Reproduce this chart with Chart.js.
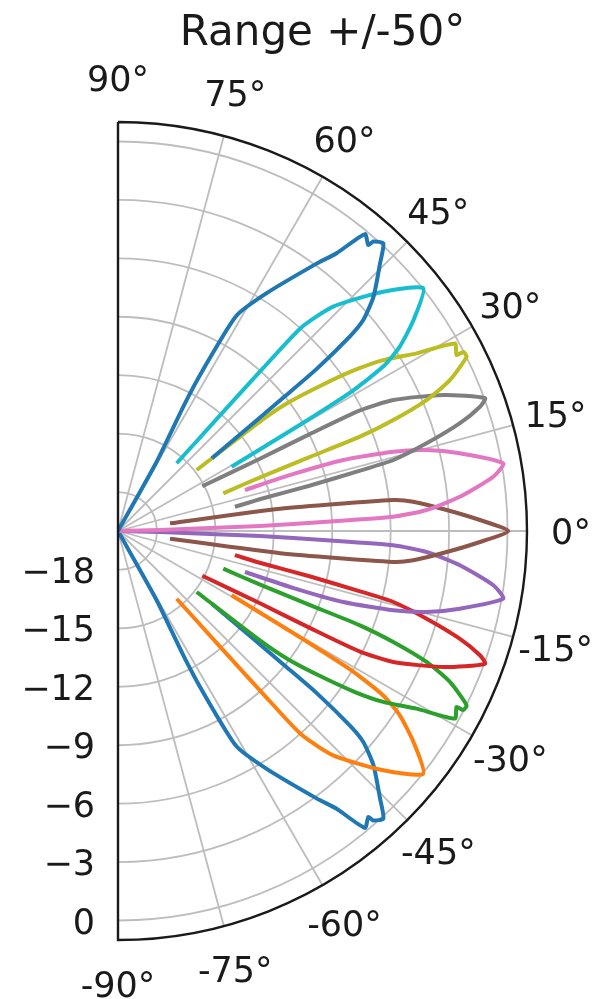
<!DOCTYPE html>
<html>
<head>
<meta charset="utf-8">
<script src="https://cdn.jsdelivr.net/npm/chart.js@4"></script>
<style>
  body { margin: 0; background: #fff; }
  canvas { display: block; }
</style>
</head>
<body>
<canvas id="polar" width="596" height="999"></canvas>
<script>
// radial axis (dB) and angular axis (deg)
const rMin = -20, rMax = 1;
const rTicks = [-18, -15, -12, -9, -6, -3, 0];
const rTickLabels = ["\u221218", "\u221215", "\u221212", "\u22129", "\u22126", "\u22123", "0"];
const thetaTicks = [-90, -75, -60, -45, -30, -15, 0, 15, 30, 45, 60, 75, 90];
const thetaTickLabels = ["-90°", "-75°", "-60°", "-45°", "-30°", "-15°", "0°", "15°", "30°", "45°", "60°", "75°", "90°"];
const titleText = "Range +/-50°";

// beam lobes, theta in degrees, r in dB
const beamM48Theta = [-60, -60.8, -62.3, -62.2, -61.2, -58.0, -53.4, -51.8, -50.25, -48.8, -48.6, -47.3, -45.6, -42.5, -40.7, -40.0, -39.2, -38.9, -38.6, -37.8];
const beamM48R     = [-20, -16.0, -12.7, -10.7, -7.4, -5.6, -2.9, -1.85, -0.17, -0.49, -0.19, 0.09, -0.77, -2.21, -3.39, -4.47, -6.87, -9.07, -10.88, -13.9];
const beamM38Theta = [-29.5, -30.2, -30.8, -31.8, -33.2, -35.5, -38.5, -42.05, -46.2, -48.0, -48.3, -48.6, -49.1];
const beamM38R     = [-13.3, -9.57, -6.15, -3.98, -2.71, -1.37, 0.02, -1.66, -4.04, -5.95, -8.84, -12.38, -15.4];
const beamM29Theta = [-37.8, -37.6, -37.0, -35.6, -34.2, -32.8, -30.75, -29.1, -27.46, -27.4, -26.56, -24.45, -23.0, -21.96, -21.3, -21.1, -20.7, -19.7];
const beamM29R     = [-14.89, -10.67, -9.02, -7.14, -5.29, -3.8, -2.16, -0.2, -0.41, -0.03, 0.01, -1.28, -2.79, -4.76, -6.67, -9.43, -12.2, -14.26];
const beamM19Theta = [-28.0, -27.0, -26.8, -26.5, -25.45, -22.7, -19.9, -18.95, -17.5, -15.86, -14.46, -14.0, -13.3, -12.7, -11.7];
const beamM19R     = [-15.1, -11.85, -9.0, -6.15, -4.35, -1.9, 0.04, -0.35, -1.59, -3.53, -5.4, -7.19, -9.9, -12.4, -13.87];
const beamM10Theta = [-17.9, -18.0, -17.5, -16.07, -14.7, -12.8, -9.97, -8.23, -5.73, -3.89, -2.97, -2.55, -2.0, -1.4, -1.0];
const beamM10R     = [-13.15, -10.52, -7.87, -5.29, -3.62, -2.0, 0.08, -0.53, -2.36, -4.12, -5.85, -9.28, -12.7, -17.84, -20];
const beam0Theta   = [8.4, 7.8, 6.42, 5.67, 3.66, 1.74, 0, -1.74, -3.66, -5.67, -6.42, -7.8, -8.4];
const beam0R       = [-17.3, -11.6, -5.78, -4.77, -3.09, -1.41, 0.04, -1.41, -3.09, -4.77, -5.78, -11.6, -17.3];
const beamP10Theta = [17.9, 18.0, 17.5, 16.07, 14.7, 12.8, 9.97, 8.23, 5.73, 3.89, 2.97, 2.55, 2.0, 1.4, 1.0];
const beamP10R     = [-13.15, -10.52, -7.87, -5.29, -3.62, -2.0, 0.08, -0.53, -2.36, -4.12, -5.85, -9.28, -12.7, -17.84, -20];
const beamP19Theta = [28.0, 27.0, 26.8, 26.5, 25.45, 22.7, 19.9, 18.95, 17.5, 15.86, 14.46, 14.0, 13.3, 12.7, 11.7];
const beamP19R     = [-15.1, -11.85, -9.0, -6.15, -4.35, -1.9, 0.04, -0.35, -1.59, -3.53, -5.4, -7.19, -9.9, -12.4, -13.87];
const beamP29Theta = [37.8, 37.6, 37.0, 35.6, 34.2, 32.8, 30.75, 29.1, 27.46, 27.4, 26.56, 24.45, 23.0, 21.96, 21.3, 21.1, 20.7, 19.7];
const beamP29R     = [-14.89, -10.67, -9.02, -7.14, -5.29, -3.8, -2.16, -0.2, -0.41, -0.03, 0.01, -1.28, -2.79, -4.76, -6.67, -9.43, -12.2, -14.26];
const beamP38Theta = [29.5, 30.2, 30.8, 31.8, 33.2, 35.5, 38.5, 42.05, 46.2, 48.0, 48.3, 48.6, 49.1];
const beamP38R     = [-13.3, -9.57, -6.15, -3.98, -2.71, -1.37, 0.02, -1.66, -4.04, -5.95, -8.84, -12.38, -15.4];
const beamP48Theta = [60, 60.8, 62.3, 62.2, 61.2, 58.0, 53.4, 51.8, 50.25, 48.8, 48.6, 47.3, 45.6, 42.5, 40.7, 40.0, 39.2, 38.9, 38.6, 37.8];
const beamP48R     = [-20, -16.0, -12.7, -10.7, -7.4, -5.6, -2.9, -1.85, -0.17, -0.49, -0.19, 0.09, -0.77, -2.21, -3.39, -4.47, -6.87, -9.07, -10.88, -13.9];

const beams = [
  [beamM48Theta, beamM48R, "#1f77b4"],
  [beamM38Theta, beamM38R, "#ff7f0e"],
  [beamM29Theta, beamM29R, "#2ca02c"],
  [beamM19Theta, beamM19R, "#d62728"],
  [beamM10Theta, beamM10R, "#9467bd"],
  [beam0Theta,   beam0R,   "#8c564b"],
  [beamP10Theta, beamP10R, "#e377c2"],
  [beamP19Theta, beamP19R, "#7f7f7f"],
  [beamP29Theta, beamP29R, "#bcbd22"],
  [beamP38Theta, beamP38R, "#17becf"],
  [beamP48Theta, beamP48R, "#1f77b4"]
];

// polar -> the x/y value space of the linear scales
function polarPoints(th, r) {
  return th.map(function (t, i) {
    var a = t * Math.PI / 180, rr = r[i] - rMin;
    return { x: rr * Math.cos(a), y: rr * Math.sin(a) };
  });
}

var datasets = beams.map(function (b, i) {
  return {
    data: polarPoints(b[0], b[1]),
    borderColor: b[2],
    borderWidth: 4,
    showLine: true,
    pointRadius: 0,
    tension: 0.2,
    order: beams.length - i
  };
});

var FONT = "'DejaVu Sans', sans-serif";

var polarFrame = {
  id: "polarFrame",
  beforeDatasetsDraw: function (chart) {
    var ctx = chart.ctx, xs = chart.scales.x, ys = chart.scales.y;
    var cx = xs.getPixelForValue(0), cy = ys.getPixelForValue(0);
    var k = xs.getPixelForValue(1) - cx;
    var R = (rMax - rMin) * k;
    ctx.save();
    ctx.strokeStyle = "#bdbdbd";
    ctx.lineWidth = 1.8;
    rTicks.forEach(function (r) {
      ctx.beginPath();
      ctx.arc(cx, cy, (r - rMin) * k, -Math.PI / 2, Math.PI / 2);
      ctx.stroke();
    });
    thetaTicks.forEach(function (t) {
      if (Math.abs(t) === 90) return;
      var a = t * Math.PI / 180;
      ctx.beginPath();
      ctx.moveTo(cx, cy);
      ctx.lineTo(cx + R * Math.cos(a), cy - R * Math.sin(a));
      ctx.stroke();
    });
    ctx.restore();
  },
  afterDatasetsDraw: function (chart) {
    var ctx = chart.ctx, xs = chart.scales.x, ys = chart.scales.y;
    var cx = xs.getPixelForValue(0), cy = ys.getPixelForValue(0);
    var k = xs.getPixelForValue(1) - cx;
    var R = (rMax - rMin) * k;
    ctx.save();
    // spines
    ctx.strokeStyle = "#1a1a1a";
    ctx.lineWidth = 2.4;
    ctx.beginPath();
    ctx.moveTo(cx, cy - R);
    ctx.arc(cx, cy, R, -Math.PI / 2, Math.PI / 2);
    ctx.lineTo(cx, cy - R);
    ctx.stroke();

    ctx.fillStyle = "#1a1a1a";
    ctx.font = "35px " + FONT;
    ctx.textBaseline = "alphabetic";
    // angle labels
    ctx.textAlign = "center";
    thetaTicks.forEach(function (t, i) {
      var a = t * Math.PI / 180, d = R + 44;
      ctx.fillText(thetaTickLabels[i], cx + d * Math.cos(a), cy - d * Math.sin(a) + 13);
    });
    // radial labels
    ctx.textAlign = "right";
    rTicks.forEach(function (r, i) {
      ctx.fillText(rTickLabels[i], cx - 23, cy + (r - rMin) * k + 13);
    });
    // title
    ctx.textAlign = "center";
    ctx.font = "42px " + FONT;
    ctx.fillText(titleText, (chart.chartArea.left + chart.chartArea.right) / 2, 45);
    ctx.restore();
  }
};

new Chart(document.getElementById("polar").getContext("2d"), {
  type: "scatter",
  data: { datasets: datasets },
  options: {
    responsive: false,
    animation: false,
    devicePixelRatio: 1,
    layout: { padding: { left: 118, right: 69, top: 122, bottom: 59 } },
    scales: {
      x: { type: "linear", min: 0, max: rMax - rMin, display: false },
      y: { type: "linear", min: rMin - rMax, max: rMax - rMin, display: false }
    },
    plugins: { legend: { display: false }, tooltip: { enabled: false }, title: { display: false } }
  },
  plugins: [polarFrame]
});
</script>
</body>
</html>
